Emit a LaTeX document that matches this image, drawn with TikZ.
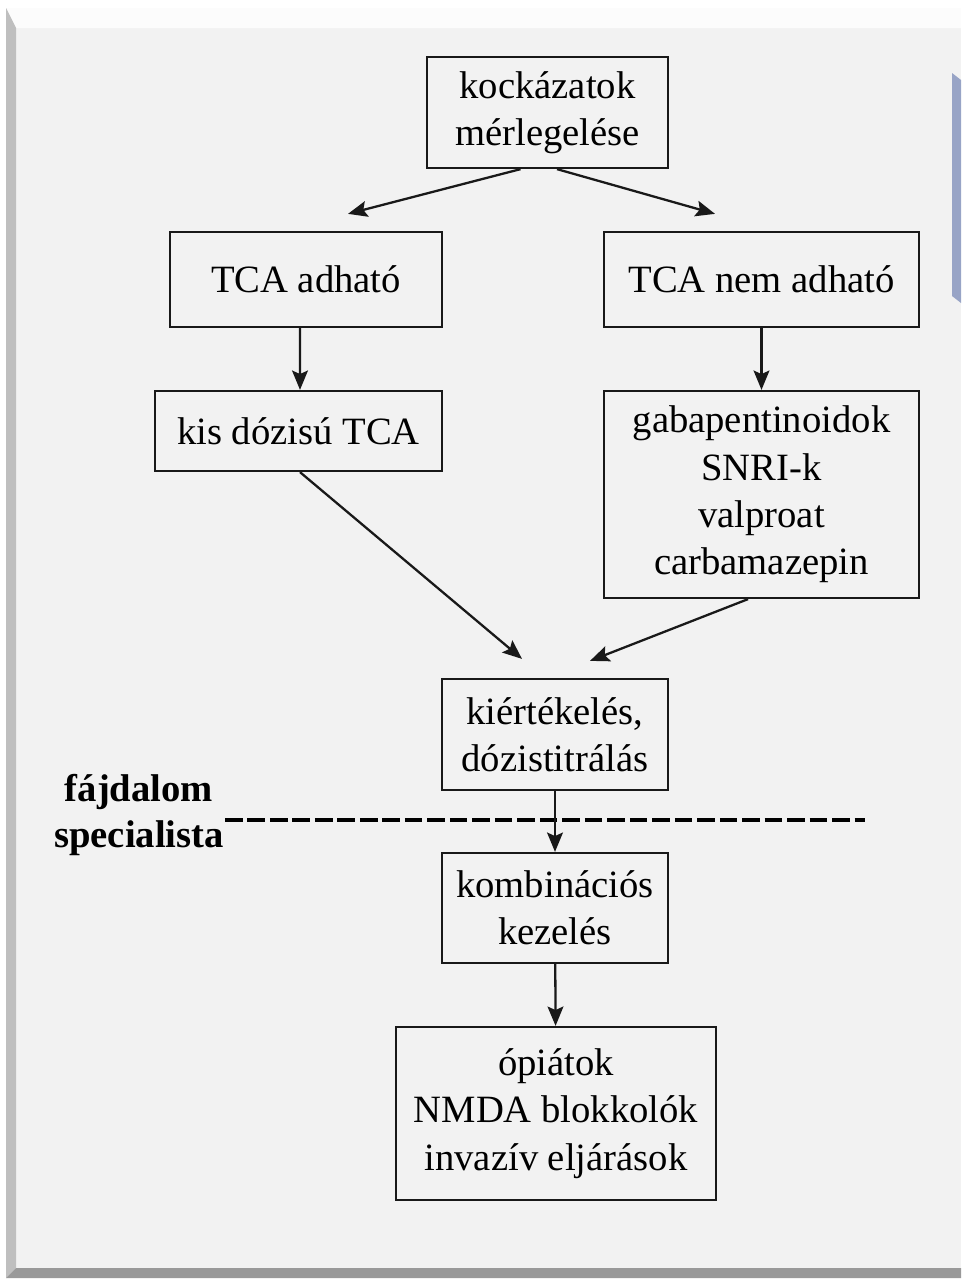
\documentclass[tikz,border=0pt]{standalone}
\usepackage{fontspec}
\setmainfont{Liberation Serif}
\usepackage{tikz}
\usetikzlibrary{positioning,arrows.meta,calc}
\definecolor{PanelGray}{RGB}{242,242,242}
\definecolor{StripBlue}{RGB}{152,164,198}

\begin{document}
\begin{tikzpicture}[
  x=0.02cm, y=-0.02cm,
  every node/.style={font=\fontsize{22pt}{27pt}\selectfont},
  flowbox/.style={draw=black!90, line width=1.3pt, fill=PanelGray, align=center, inner sep=0pt},
  arrow/.style={-{Stealth[length=11pt,width=9pt,inset=2pt]}, line width=1.3pt, black!90},
  divider/.style={line width=2.2pt, dash pattern=on 10pt off 2.8pt}
]
\useasboundingbox (0,0) rectangle (961,1281);
% slide panel
\fill[white] (0,0) rectangle (961,1281);
\fill[PanelGray] (6,8) rectangle (961,1278);
\fill[white!99!black] (6,8) -- (961,8) -- (961,28) -- (16,28) -- cycle;
\fill[black!25] (6,8) -- (16,28) -- (16,1268) -- (6,1278) -- cycle;
\fill[black!40] (6,1278) -- (16,1268) -- (961,1268) -- (961,1278) -- cycle;
\fill[StripBlue] (952,73) -- (961,80) -- (961,303) -- (952,296) -- cycle;

% boxes
\node[flowbox, minimum width=4.82cm, minimum height=2.22cm] (kock) at (547.5,112.5) {kockázatok\\mérlegelése};
\node[flowbox, minimum width=5.44cm, minimum height=1.9cm] (tca) at (306,279.5) {TCA adható};
\node[flowbox, minimum width=6.3cm, minimum height=1.9cm] (tcanem) at (761.5,279.5) {TCA nem adható};
\node[flowbox, minimum width=5.74cm, minimum height=1.6cm] (kis) at (298.5,431) {kis dózisú TCA};
\node[flowbox, minimum width=6.3cm, minimum height=4.14cm] (gaba) at (761.5,494.5) {gabapentinoidok\\SNRI-k\\valproat\\carbamazepin};
\node[flowbox, minimum width=4.52cm, minimum height=2.22cm] (kiert) at (555,734.5) {kiértékelés,\\dózistitrálás};
\node[flowbox, minimum width=4.52cm, minimum height=2.2cm] (komb) at (555,908) {kombinációs\\kezelés};
\node[flowbox, minimum width=6.4cm, minimum height=3.46cm] (opi) at (556,1113.5) {ópiátok\\NMDA blokkolók\\invazív eljárások};

% specialist level
\node[align=center, font=\fontsize{22pt}{26pt}\selectfont\bfseries] (spec) at (139,815) {fájdalom\\specialista};
\draw[divider] (225,820) -- (865,820);

% arrows
\draw[arrow] ([xshift=-0.54cm]kock.south) -- ([xshift=0.84cm,yshift=0.34cm]tca.north);
\draw[arrow] ([xshift=0.19cm]kock.south) -- ([xshift=-0.93cm,yshift=0.34cm]tcanem.north);
\draw[arrow] ([xshift=-0.12cm]tca.south) -- ([xshift=0.03cm]kis.north);
\draw[arrow] (tcanem) -- (gaba);
\draw[arrow] ([xshift=0.03cm]kis.south) -- ([xshift=-0.66cm,yshift=0.38cm]kiert.north);
\draw[arrow] ([xshift=-0.27cm]gaba.south) -- ([xshift=0.7cm,yshift=0.34cm]kiert.north);
\draw[arrow] (kiert) -- (komb);
\draw[arrow] (komb) -- (opi);
\end{tikzpicture}
\end{document}
